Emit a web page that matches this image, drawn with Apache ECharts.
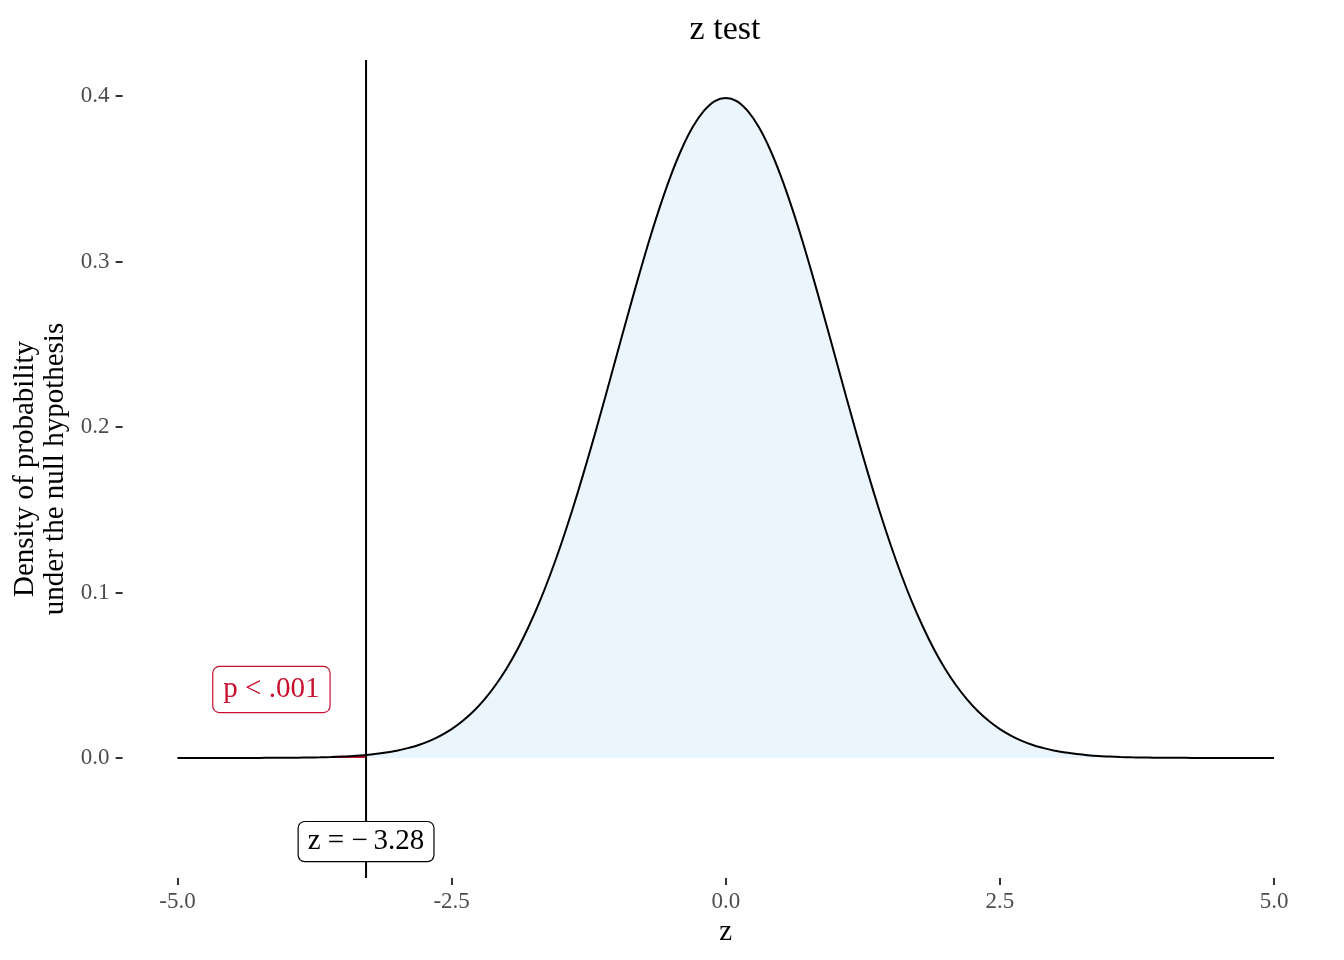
<!DOCTYPE html>
<html>
<head>
<meta charset="utf-8">
<script src="https://cdn.jsdelivr.net/npm/echarts@6/dist/echarts.min.js"></script>
<style>html,body{margin:0;padding:0;background:#fff;}#main{width:1344px;height:960px;}</style>
</head>
<body>
<div id="main"></div>
<script>
// Data
const zValues = [-5.0,-4.9,-4.8,-4.7,-4.6,-4.5,-4.4,-4.3,-4.2,-4.1,-4.0,-3.9,-3.8,-3.7,-3.6,-3.5,-3.4,-3.3,-3.28,-3.2,-3.1,-3.0,-2.9,-2.8,-2.7,-2.6,-2.5,-2.4,-2.3,-2.2,-2.1,-2.0,-1.9,-1.8,-1.7,-1.6,-1.5,-1.4,-1.3,-1.2,-1.1,-1.0,-0.9,-0.8,-0.7,-0.6,-0.5,-0.4,-0.3,-0.2,-0.1,0.0,0.1,0.2,0.3,0.4,0.5,0.6,0.7,0.8,0.9,1.0,1.1,1.2,1.3,1.4,1.5,1.6,1.7,1.8,1.9,2.0,2.1,2.2,2.3,2.4,2.5,2.6,2.7,2.8,2.9,3.0,3.1,3.2,3.3,3.4,3.5,3.6,3.7,3.8,3.9,4.0,4.1,4.2,4.3,4.4,4.5,4.6,4.7,4.8,4.9,5.0];
const density = [0.0000,0.0000,0.0000,0.0000,0.0000,0.0000,0.0000,0.0000,0.0001,0.0001,0.0001,0.0002,0.0003,0.0004,0.0006,0.0009,0.0012,0.0017,0.0018,0.0024,0.0033,0.0044,0.0060,0.0079,0.0104,0.0136,0.0175,0.0224,0.0283,0.0355,0.0440,0.0540,0.0656,0.0790,0.0940,0.1109,0.1295,0.1497,0.1714,0.1942,0.2179,0.2420,0.2661,0.2897,0.3123,0.3332,0.3521,0.3683,0.3814,0.3910,0.3970,0.3989,0.3970,0.3910,0.3814,0.3683,0.3521,0.3332,0.3123,0.2897,0.2661,0.2420,0.2179,0.1942,0.1714,0.1497,0.1295,0.1109,0.0940,0.0790,0.0656,0.0540,0.0440,0.0355,0.0283,0.0224,0.0175,0.0136,0.0104,0.0079,0.0060,0.0044,0.0033,0.0024,0.0017,0.0012,0.0009,0.0006,0.0004,0.0003,0.0002,0.0001,0.0001,0.0001,0.0000,0.0000,0.0000,0.0000,0.0000,0.0000,0.0000,0.0000];
const zObserved = -3.28;
const pLabel = 'p < .001';
const zLabel = 'z = \u2212\u20093.28';
const pLabelPos = [-4.143, 0.0414];
const zLabelY = -0.0505;
const xTicks = [-5, -2.5, 0, 2.5, 5];
const yTicks = [0, 0.1, 0.2, 0.3, 0.4];
const xRange = [-5.5, 5.5];
const yRange = [-0.0725, 0.4218];

const curve = zValues.map((z, i) => [z, density[i]]);
const leftTail = curve.filter(p => p[0] <= zObserved);
const rest = curve.filter(p => p[0] >= zObserved);

const serif = 'Liberation Serif';
const chart = echarts.init(document.getElementById('main'), null, {renderer: 'canvas'});
chart.setOption({
  animation: false,
  backgroundColor: '#ffffff',
  title: {
    text: 'z test', left: 720, textAlign: 'center', top: 8,
    textStyle: {fontFamily: serif, fontSize: 34, fontWeight: 'normal', color: '#000'}
  },
  grid: {left: 122.6, right: 15.1, top: 60, bottom: 82, containLabel: false, outerBoundsMode: 'none'},
  xAxis: {
    type: 'value', min: xRange[0], max: xRange[1],
    name: 'z', nameLocation: 'middle', nameGap: 38,
    nameTextStyle: {fontFamily: serif, fontSize: 29, color: '#000'},
    axisLine: {show: false, onZero: false},
    splitLine: {show: false},
    axisTick: {show: true, length: 7, customValues: xTicks, lineStyle: {color: '#333', width: 2}},
    axisLabel: {customValues: xTicks, margin: 12, fontFamily: serif, fontSize: 23, color: '#4d4d4d',
      formatter: v => v.toFixed(1)}
  },
  yAxis: {
    type: 'value', min: yRange[0], max: yRange[1],
    name: 'Density of probability\nunder the null hypothesis', nameLocation: 'middle', nameGap: 50,
    nameTextStyle: {fontFamily: serif, fontSize: 29, color: '#000', lineHeight: 30},
    axisLine: {show: false, onZero: false},
    splitLine: {show: false},
    axisTick: {show: true, length: 7, customValues: yTicks, lineStyle: {color: '#333', width: 2}},
    axisLabel: {customValues: yTicks, margin: 13, fontFamily: serif, fontSize: 23, color: '#4d4d4d',
      formatter: v => v.toFixed(1)}
  },
  series: [
    {
      type: 'line', data: rest, showSymbol: false, silent: true,
      lineStyle: {width: 0}, areaStyle: {color: '#EBF5FE', opacity: 1}, z: 1
    },
    {
      type: 'line', data: leftTail, showSymbol: false, silent: true,
      lineStyle: {width: 0}, areaStyle: {color: '#C8102E', opacity: 1}, z: 1
    },
    {
      type: 'line', data: curve, showSymbol: false, smooth: 0.3, silent: true,
      lineStyle: {color: '#000', width: 2}, z: 3
    },
    {
      type: 'line', data: [[zObserved, yRange[0]], [zObserved, yRange[1]]], showSymbol: false, silent: true,
      lineStyle: {color: '#000', width: 2}, z: 4
    },
    {
      type: 'scatter', symbolSize: 0, silent: true, z: 5,
      itemStyle: {opacity: 1},
      data: [pLabelPos],
      label: {show: true, position: 'inside', formatter: pLabel, fontFamily: serif, fontSize: 29, lineHeight: 29,
        color: '#C8102E', opacity: 1,
        backgroundColor: '#fff', borderColor: '#C8102E', borderWidth: 1.2, borderRadius: 6, padding: [8, 10, 8, 10]}
    },
    {
      type: 'scatter', symbolSize: 0, silent: true, z: 5,
      itemStyle: {opacity: 1},
      data: [[zObserved, zLabelY]],
      label: {show: true, position: 'inside', formatter: zLabel, fontFamily: serif, fontSize: 29, lineHeight: 29,
        color: '#000', opacity: 1,
        backgroundColor: '#fff', borderColor: '#000', borderWidth: 1.2, borderRadius: 6, padding: [9, 9, 1, 9]}
    }
  ]
});
</script>
</body>
</html>
